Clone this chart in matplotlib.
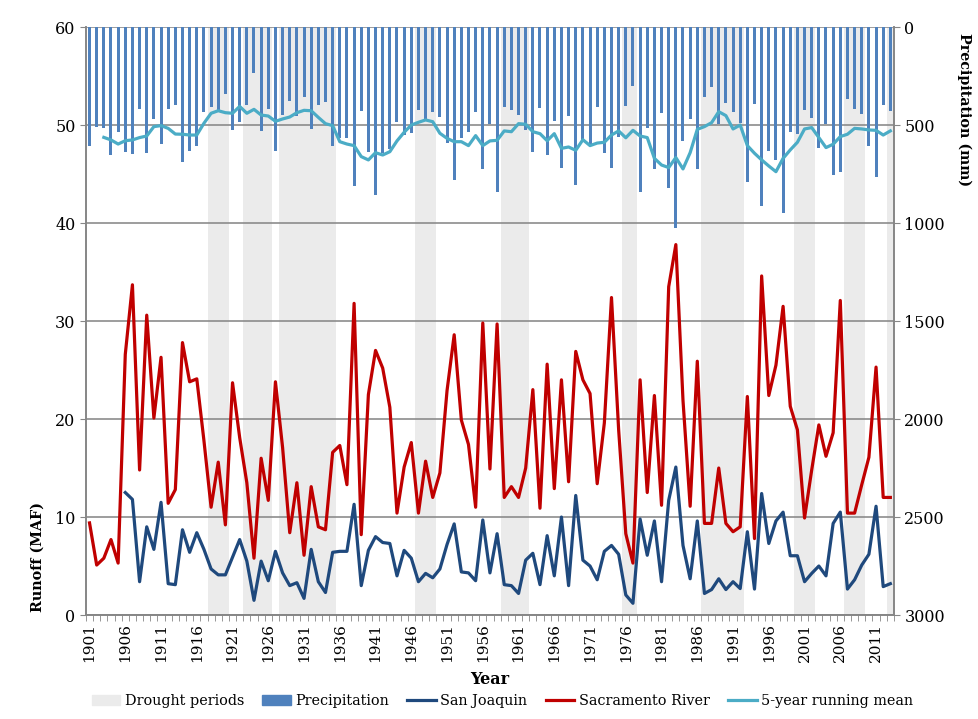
import matplotlib
matplotlib.use("Agg")
import matplotlib.pyplot as plt
from matplotlib.patches import Patch
from matplotlib.lines import Line2D
import numpy as np

# ======================== DATA ========================
years = list(range(1901, 2014))

# annual precipitation, mm (1901-2013)
precip = [605, 512, 513, 653, 534, 639, 649, 420, 644, 471,
          595, 418, 398, 690, 631, 609, 432, 408, 425, 343,
          524, 485, 398, 236, 530, 420, 631, 450, 379, 456,
          357, 522, 396, 383, 605, 564, 568, 810, 427, 637,
          857, 643, 622, 483, 553, 539, 423, 479, 432, 461,
          593, 782, 564, 537, 435, 722, 495, 841, 410, 422,
          449, 523, 640, 412, 651, 481, 719, 453, 807, 585,
          600, 408, 645, 720, 563, 405, 301, 844, 514, 724,
          437, 821, 1024, 580, 469, 726, 358, 307, 493, 389,
          432, 488, 792, 394, 911, 631, 677, 950, 534, 546,
          425, 464, 619, 496, 755, 740, 366, 418, 444, 609,
          765, 400, 427]

# 5-year running mean of precipitation, mm (1903-2013)
mean_start = 1903
precip_mean = [563, 576, 597, 580, 576, 564, 556, 508, 503, 517,
               546, 547, 551, 551, 491, 440, 427, 437, 440, 405,
               440, 420, 449, 454, 481, 469, 459, 437, 425, 427,
               461, 493, 503, 585, 597, 605, 661, 678, 641, 653,
               636, 581, 537, 500, 486, 474, 483, 542, 568, 585,
               585, 605, 554, 605, 581, 578, 530, 534, 493, 496,
               534, 544, 580, 544, 619, 612, 629, 575, 605, 592,
               588, 551, 530, 565, 527, 556, 564, 670, 704, 717,
               666, 724, 641, 522, 508, 488, 432, 452, 520, 500,
               605, 644, 678, 709, 738, 670, 627, 588, 520, 513,
               564, 615, 598, 559, 547, 517, 520, 525, 527, 551,
               530]

# Sacramento River runoff, MAF (1901-2013)
sacramento = [9.4, 5.1, 5.8, 7.7, 5.3, 26.6, 33.7, 14.8, 30.6, 20.1,
              26.3, 11.4, 12.8, 27.8, 23.8, 24.1, 17.8, 11.0, 15.6, 9.2,
              23.7, 18.1, 13.5, 5.8, 16.0, 11.7, 23.8, 17.1, 8.4, 13.5,
              6.1, 13.1, 9.0, 8.7, 16.6, 17.3, 13.3, 31.8, 8.2, 22.5,
              27.0, 25.2, 21.2, 10.4, 15.1, 17.6, 10.4, 15.7, 12.0, 14.5,
              22.9, 28.6, 19.9, 17.4, 11.0, 29.8, 14.9, 29.7, 12.0, 13.1,
              12.0, 15.0, 23.0, 10.9, 25.6, 12.9, 24.0, 13.6, 26.9, 24.0,
              22.6, 13.4, 19.6, 32.4, 18.9, 8.3, 5.3, 24.0, 12.5, 22.4,
              11.2, 33.5, 37.8, 21.9, 11.1, 25.9, 9.35, 9.35, 15.0, 9.35,
              8.5, 9.0, 22.3, 7.8, 34.6, 22.4, 25.5, 31.5, 21.3, 18.9,
              9.9, 14.8, 19.4, 16.2, 18.6, 32.1, 10.4, 10.4, 13.3, 16.1,
              25.3, 12.0, 12.0]

# San Joaquin runoff, MAF (1906-2013)
sj_start = 1906
san_joaquin = [12.5, 11.8, 3.4, 9.0, 6.7, 11.5, 3.2, 3.1, 8.7, 6.4,
               8.4, 6.7, 4.7, 4.1, 4.1, 5.9, 7.7, 5.5, 1.5, 5.5,
               3.5, 6.5, 4.3, 3.0, 3.3, 1.7, 6.7, 3.4, 2.3, 6.4,
               6.5, 6.5, 11.3, 3.0, 6.6, 8.0, 7.4, 7.3, 4.0, 6.6,
               5.8, 3.4, 4.25, 3.8, 4.7, 7.2, 9.3, 4.4, 4.3, 3.5,
               9.7, 4.3, 8.3, 3.1, 3.0, 2.2, 5.6, 6.3, 3.1, 8.1,
               4.0, 10.0, 3.0, 12.2, 5.6, 5.0, 3.6, 6.5, 7.1, 6.2,
               2.05, 1.2, 9.8, 6.1, 9.6, 3.4, 11.7, 15.1, 7.1, 3.7,
               9.6, 2.2, 2.6, 3.7, 2.6, 3.4, 2.7, 8.5, 2.65, 12.4,
               7.3, 9.6, 10.5, 6.05, 6.05, 3.4, 4.25, 5.0, 4.0, 9.35,
               10.5, 2.65, 3.6, 5.1, 6.2, 11.1, 2.9, 3.2]

# drought periods (first year, last year)
droughts = [(1918, 1920), (1923, 1926), (1928, 1935), (1947, 1949),
            (1959, 1962), (1976, 1977), (1987, 1992), (2000, 2002),
            (2007, 2009), (2013, 2013)]

# ============================== PLOTTING ===================================
plt.rcParams['font.family'] = ['DejaVu Serif']

x = np.arange(len(years))
x_sj = x[years.index(sj_start):]
x_mean = x[years.index(mean_start):]

c_drought = '#EBEBEB'
c_precip = '#4F81BD'
c_sj = '#1F497D'
c_sac = '#C00000'
c_mean = '#4BACC6'
c_axis = '#868686'

fig = plt.figure(figsize=(9.79, 7.19), dpi=100)
ax = fig.add_axes([0.0878, 0.1446, 0.8253, 0.8178])
ax2 = ax.twinx()

for d0, d1 in droughts:
    ax.axvspan(years.index(d0) - 0.5, years.index(d1) + 0.5, color=c_drought, lw=0, zorder=0)

ax.set_axisbelow(True)
ax.grid(True, axis='y', color='#8C8C8C', lw=1.2)
ax.plot(x_sj, san_joaquin, color=c_sj, lw=2.3, zorder=3)
ax.plot(x, sacramento, color=c_sac, lw=2.3, zorder=4)

ax2.bar(x, precip, width=0.42, color=c_precip, zorder=2)
ax2.plot(x_mean, precip_mean, color=c_mean, lw=2.3, zorder=3)

ax.set_xlim(-0.5, len(years) - 0.5)
ax.set_ylim(0, 60)
ax.set_yticks(range(0, 61, 10))
ax2.set_ylim(3000, 0)
ax2.set_yticks(range(0, 3001, 500))

ax.set_xticks(x[::5])
ax.set_xticklabels([str(y) for y in years[::5]], rotation=90, fontsize=11)
ax.set_xticks(np.arange(-0.5, len(years), 1), minor=True)
ax.tick_params(axis='x', which='major', length=0, pad=6)
ax.tick_params(axis='x', which='minor', length=4, color=c_axis)
ax.tick_params(axis='y', length=4, color=c_axis, labelsize=11.5)
ax2.tick_params(axis='y', length=4, color=c_axis, labelsize=11.5)

for a in (ax, ax2):
    a.spines['top'].set_visible(False)
    for s in ('left', 'right', 'bottom'):
        a.spines[s].set_color(c_axis)
        a.spines[s].set_linewidth(1.2)

# axis titles sit at the bottom (left) and top (right), as in the original
fig.text(38 / 979, 1 - 612 / 719, 'Runoff (MAF)', rotation=90, ha='center', va='bottom',
         fontweight='bold', fontsize=10.3)
fig.text(964 / 979, 1 - 33 / 719, 'Precipitation (mm)', rotation=-90, ha='center', va='top',
         fontweight='bold', fontsize=10.3)
ax.set_xlabel('Year', fontweight='bold', fontsize=11.5, labelpad=6)

handles = [Patch(color=c_drought, label='Drought periods'),
           Patch(color=c_precip, label='Precipitation'),
           Line2D([], [], color=c_sj, lw=2.3, label='San Joaquin'),
           Line2D([], [], color=c_sac, lw=2.3, label='Sacramento River'),
           Line2D([], [], color=c_mean, lw=2.3, label='5-year running mean')]
fig.legend(handles=handles, loc='lower center', bbox_to_anchor=(0.513, -0.003), ncol=5,
           frameon=False, fontsize=10.4, handlelength=2.0, handletextpad=0.3, columnspacing=1.25)

fig.savefig('out.png', dpi=100)
